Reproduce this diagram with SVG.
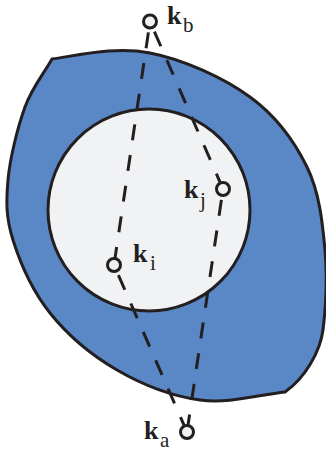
<svg xmlns="http://www.w3.org/2000/svg" width="326" height="452" viewBox="0 0 326 452">
  <style>
    .edge { fill: none; stroke: #231f20; stroke-width: 3; stroke-dasharray: 16 15; }
    .node { fill: #f1f2f4; stroke: #231f20; stroke-width: 3; }
    .k { font-family: "Liberation Serif", "Times New Roman", serif; font-weight: bold; font-size: 26px; fill: #231f20; }
    .sub { font-family: "Liberation Serif", "Times New Roman", serif; font-size: 21px; fill: #231f20; }
  </style>
  <rect width="326" height="452" fill="#ffffff"/>
  <g id="outer-region">
    <path d="M52,59 C85,54 117,46.7 150,53 C183,59.3 223.8,78 250,97 C276.2,116 294.5,141.5 307,167 C319.5,192.5 322.5,222.8 325,250 C327.5,277.2 326,305 323,330 C320,352 305,378 285,392 C256.7,395.3 228,403.8 200,400 C172,396.2 142,384.5 117,370 C92,355.5 67.3,334.7 50,313 C32.7,291.3 20,262.2 13,240 C6,217.8 6,202.2 8,180 C10,157.8 17.7,127.2 25,107 C32.3,86.8 43,75 52,59 Z" fill="#5a87c5" stroke="#231f20" stroke-width="3" stroke-linejoin="miter"/>
  </g>
  <g id="inner-region">
    <circle cx="149" cy="210" r="101" fill="#f1f2f4" stroke="#231f20" stroke-width="3"/>
  </g>
  <g id="connectors">
    <line class="edge" x1="148.4" y1="32.4" x2="114" y2="265"/>
    <line class="edge" x1="154.4" y1="31.6" x2="223" y2="189"/>
    <line class="edge" x1="118.4" y1="275.1" x2="187" y2="432"/>
    <line class="edge" x1="221.4" y1="199.9" x2="187" y2="432"/>
  </g>
  <g id="node-kb">
    <circle class="node" cx="150" cy="21.5" r="6.5"/>
    <text class="k" x="167" y="24">k</text>
    <text class="sub" x="183" y="32">b</text>
  </g>
  <g id="node-kj">
    <circle class="node" cx="223" cy="189" r="6.5"/>
    <text class="k" x="184" y="198">k</text>
    <text class="sub" x="200" y="207">j</text>
  </g>
  <g id="node-ki">
    <circle class="node" cx="114" cy="265" r="6.5"/>
    <text class="k" x="133" y="262">k</text>
    <text class="sub" x="150" y="270">i</text>
  </g>
  <g id="node-ka">
    <circle class="node" cx="187" cy="432" r="6.5"/>
    <text class="k" x="144" y="439">k</text>
    <text class="sub" x="160" y="447">a</text>
  </g>
</svg>
